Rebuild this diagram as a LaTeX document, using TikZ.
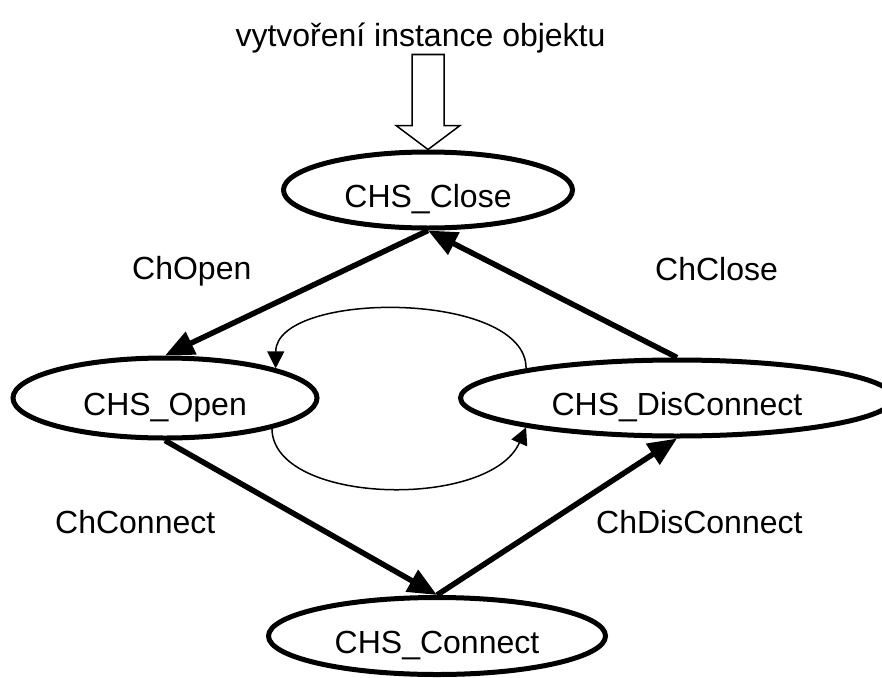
\documentclass[tikz,border=0pt]{standalone}
\usepackage{fontspec}
\setmainfont{Liberation Sans}
\usetikzlibrary{shapes.geometric,arrows.meta}

\tikzset{
  txt/.style={font=\fontsize{32}{38}\selectfont, inner sep=0pt},
  state/.style={txt, draw, ellipse, line width=5pt, text height=34pt, text depth=0pt},
  evlabel/.style={txt, anchor=west, text height=23pt, text depth=0pt},
  trans/.style={line width=5.5pt, -{Triangle[length=29pt,width=24pt]}},
  loopedge/.style={line width=1.5pt, -{Triangle[length=17pt,width=17pt]}},
  hollow/.style={draw, line width=1.5pt, fill=white, line join=miter}
}

\begin{document}
\begin{tikzpicture}[x=1pt,y=-1pt]
  \useasboundingbox (0,0) rectangle (882,677);
  \fill[white] (0,0) rectangle (882,677);
  \clip (0,0) rectangle (882,677);

  % states
  \node[state, minimum width=289pt, minimum height=76pt] (close) at (428,190) {CHS\_Close};
  \node[state, minimum width=304pt, minimum height=80pt] (open)  at (165,398) {CHS\_Open};
  \node[state, minimum width=433pt, minimum height=76pt] (disc)  at (677,398) {CHS\_DisConnect};
  \node[state, minimum width=337pt, minimum height=77pt] (conn)  at (437,636) {CHS\_Connect};

  % object creation
  \node[txt, anchor=base] (create) at (420.5,46) {vytvoření instance objektu};
  \draw[hollow] (close.north) -- ++(32,-24) -- ++(-16,0) -- ++(0,-71)
                -- ++(-32,0) -- ++(0,71) -- ++(-16,0) -- cycle;

  % transitions
  \draw[trans] (close.south) -- (open.north);
  \draw[trans] (disc.north) -- (close.south);
  \draw[trans] (open.south) -- (conn.north);
  \draw[trans] (conn.north) -- (disc.south);

  % direct switching between open and disconnected
  \draw[loopedge] (disc.169) .. controls (527,290) and (276,290) .. (open.15);
  \draw[loopedge] (open.-16) .. controls (273,505) and (490,510) .. (disc.191);

  % event labels
  \node[evlabel] (lopen)  at (132,268)   {ChOpen};
  \node[evlabel] (lclose) at (655,269)   {ChClose};
  \node[evlabel] (lconn)  at (55,521.5)  {ChConnect};
  \node[evlabel] (ldisc)  at (596,521.5) {ChDisConnect};
\end{tikzpicture}
\end{document}
